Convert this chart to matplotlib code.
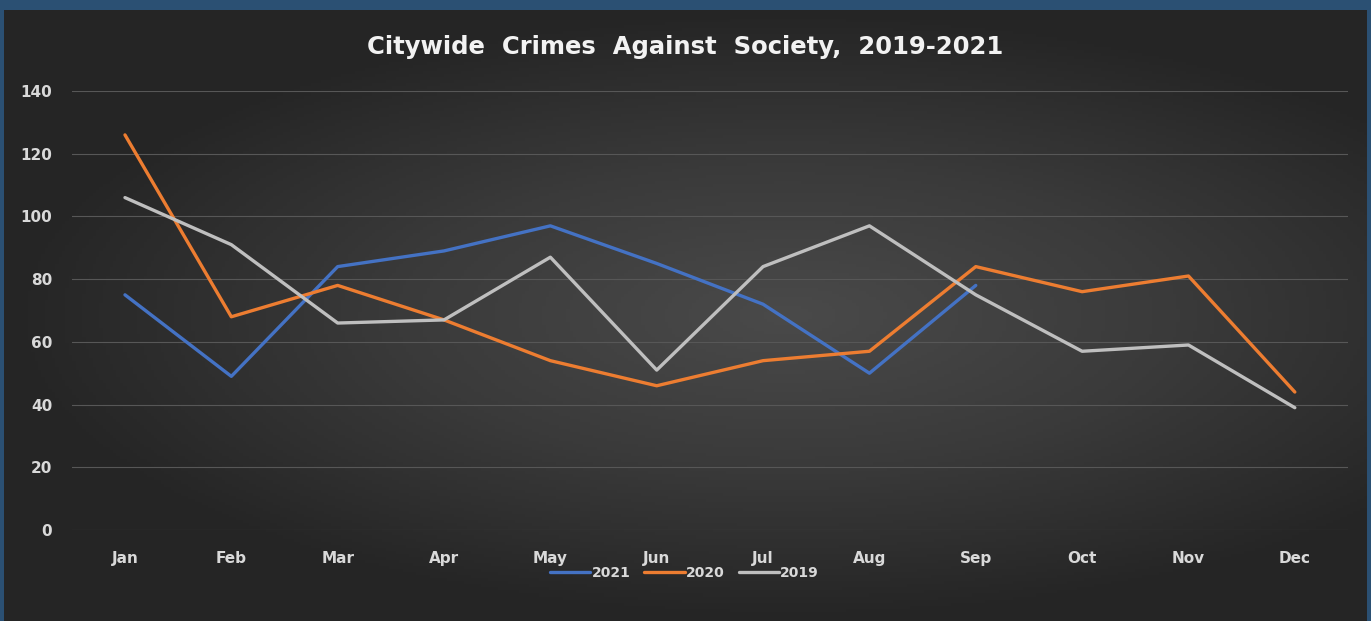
import numpy as np
import matplotlib
matplotlib.use("Agg")
import matplotlib.pyplot as plt
from matplotlib.colors import LinearSegmentedColormap

months = ["Jan", "Feb", "Mar", "Apr", "May", "Jun", "Jul", "Aug", "Sep", "Oct", "Nov", "Dec"]
y2021 = [75, 49, 84, 89, 97, 85, 72, 50, 78]
y2020 = [126, 68, 78, 67, 54, 46, 54, 57, 84, 76, 81, 44]
y2019 = [106, 91, 66, 67, 87, 51, 84, 97, 75, 57, 59, 39]
yticks = [0, 20, 40, 60, 80, 100, 120, 140]

W, H = 1371, 621
fig = plt.figure(figsize=(W / 100, H / 100), dpi=100)
fig.patch.set_facecolor("#2b5073")

# background gradient panel
bg = fig.add_axes([4 / W, 0, (W - 8) / W, (H - 10) / H], zorder=0)
bg.set_axis_off()
gx, gy = np.meshgrid(np.linspace(-1, 1, 400), np.linspace(-1, 1, 200))
r = np.sqrt(((gx - 0.15) / 1.15) ** 2 + (gy / 1.0) ** 2)
r = np.clip(r, 0, 1)
cmap = LinearSegmentedColormap.from_list("g", ["#4a4a4a", "#3a3a3a", "#252525"])
bg.imshow(r, cmap=cmap, aspect="auto", extent=[0, 1, 0, 1], vmin=0, vmax=1)

ax = fig.add_axes([71.8 / W, (H - 530) / H, (1348 - 71.8) / W, (530 - 91) / H], zorder=1)
ax.patch.set_alpha(0)
x = np.arange(len(months))
ax.plot(x[:len(y2021)], y2021, color="#4472c4", lw=2.4, label="2021", solid_capstyle="round")
ax.plot(x, y2020, color="#ed7d31", lw=2.4, label="2020", solid_capstyle="round")
ax.plot(x, y2019, color="#bfbfbf", lw=2.4, label="2019", solid_capstyle="round")

ax.set_xlim(-0.5, len(months) - 0.5)
ax.set_ylim(0, 140)
ax.set_yticks(yticks)
ax.set_xticks(x)
ax.set_xticklabels(months)
ax.grid(axis="y", color="#575757", lw=0.8)
ax.set_axisbelow(True)
for s in ax.spines.values():
    s.set_visible(False)
ax.tick_params(length=0, colors="#d9d9d9", labelsize=11)
ax.tick_params(axis="x", pad=15)
ax.tick_params(axis="y", pad=14)
for lab in ax.get_xticklabels() + ax.get_yticklabels():
    lab.set_fontweight("bold")

fig.text(685 / W, 1 - 47 / H, "Citywide  Crimes  Against  Society,  2019-2021", ha="center", va="center",
         color="#f2f2f2", fontsize=17.5, fontweight="bold")

leg = ax.legend(loc="center", bbox_to_anchor=(0.48, (530 - 573) / (530 - 91)), ncol=3, frameon=False,
                handlelength=2.9, handletextpad=0.1, columnspacing=1.0,
                prop={"weight": "bold", "size": 10})
for t in leg.get_texts():
    t.set_color("#d9d9d9")

fig.savefig("out.png", dpi=100, facecolor=fig.get_facecolor())
